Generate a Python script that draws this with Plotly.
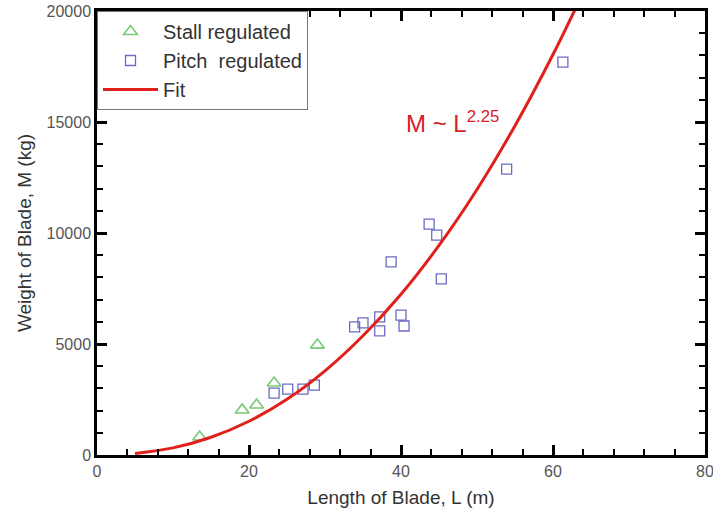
import plotly.graph_objects as go

# Stall regulated blades (length m, weight kg)
stall_L = [13.5, 19.1, 21.0, 23.3, 29.0]
stall_M = [810, 2030, 2250, 3240, 4950]

# Pitch regulated blades
pitch_L = [23.3, 25.1, 27.1, 28.6, 33.9, 35.0, 37.2, 37.2, 40.0, 40.4, 38.7, 43.7, 44.7, 45.3, 53.9, 61.3]
pitch_M = [2790, 2970, 2970, 3150, 5770, 5950, 6220, 5590, 6300, 5810, 8700, 10400, 9900, 7930, 12880, 17700]

# Fit curve
fit_L = [5, 10, 15, 20, 25, 30, 35, 40, 45, 50, 55, 60, 63]
fit_M = [70, 320, 800, 1520, 2510, 3790, 5370, 7240, 9440, 11960, 14830, 18040, 20140]

font_family = "Liberation Sans, Arial, sans-serif"

fig = go.Figure()
fig.add_trace(go.Scatter(
    x=stall_L, y=stall_M, mode="markers", name="Stall regulated",
    marker=dict(symbol="triangle-up-open", size=12, color="#79c879", line=dict(width=1.6)),
))
fig.add_trace(go.Scatter(
    x=pitch_L, y=pitch_M, mode="markers", name="Pitch  regulated",
    marker=dict(symbol="square-open", size=10, color="#6b6bc4", line=dict(width=1.3)),
))
fig.add_trace(go.Scatter(
    x=fit_L, y=fit_M, mode="lines", name="Fit",
    line=dict(color="#e0201b", width=3, shape="spline"),
))

fig.add_annotation(
    x=46.8, y=15000, xref="x", yref="y", showarrow=False,
    text="M ~ L<sup>2.25</sup>", font=dict(size=24, color="#d8202a", family=font_family),
)

fig.update_xaxes(
    range=[0, 80], dtick=20, tick0=0, automargin=False, ticklabeloverflow="allow",
    showline=True, linecolor="black", linewidth=2.5, mirror="ticks",
    ticks="inside", ticklen=10, tickwidth=2.5, tickcolor="black",
    showgrid=False, zeroline=False,
    tickfont=dict(size=16, color="#555555", family=font_family),
    title=dict(text="Length of Blade, L (m)", font=dict(size=19, color="#333333", family=font_family), standoff=12),
    minor=dict(dtick=4, ticks="inside", ticklen=6, tickcolor="black", tickwidth=2),
)
fig.update_yaxes(
    range=[0, 20000], dtick=5000, tick0=0, tickformat="d", automargin=False, ticklabeloverflow="allow",
    showline=True, linecolor="black", linewidth=2.5, mirror="ticks",
    ticks="inside", ticklen=10, tickwidth=2.5, tickcolor="black",
    showgrid=False, zeroline=False,
    tickfont=dict(size=16, color="#555555", family=font_family),
    title=dict(text="Weight of Blade, M (kg)", font=dict(size=19, color="#333333", family=font_family), standoff=10),
    minor=dict(dtick=1000, ticks="inside", ticklen=6, tickcolor="black", tickwidth=2),
)

fig.update_layout(
    width=713, height=520,
    margin=dict(l=97, r=8, t=11, b=65),
    plot_bgcolor="white", paper_bgcolor="white",
    font=dict(family=font_family),
    legend=dict(
        x=0, y=1, xanchor="left", yanchor="top",
        bordercolor="#777777", borderwidth=1, bgcolor="white",
        font=dict(size=20, color="#333333", family=font_family),
        tracegroupgap=0, itemwidth=55,
    ),
)

fig.write_html("out.html")
